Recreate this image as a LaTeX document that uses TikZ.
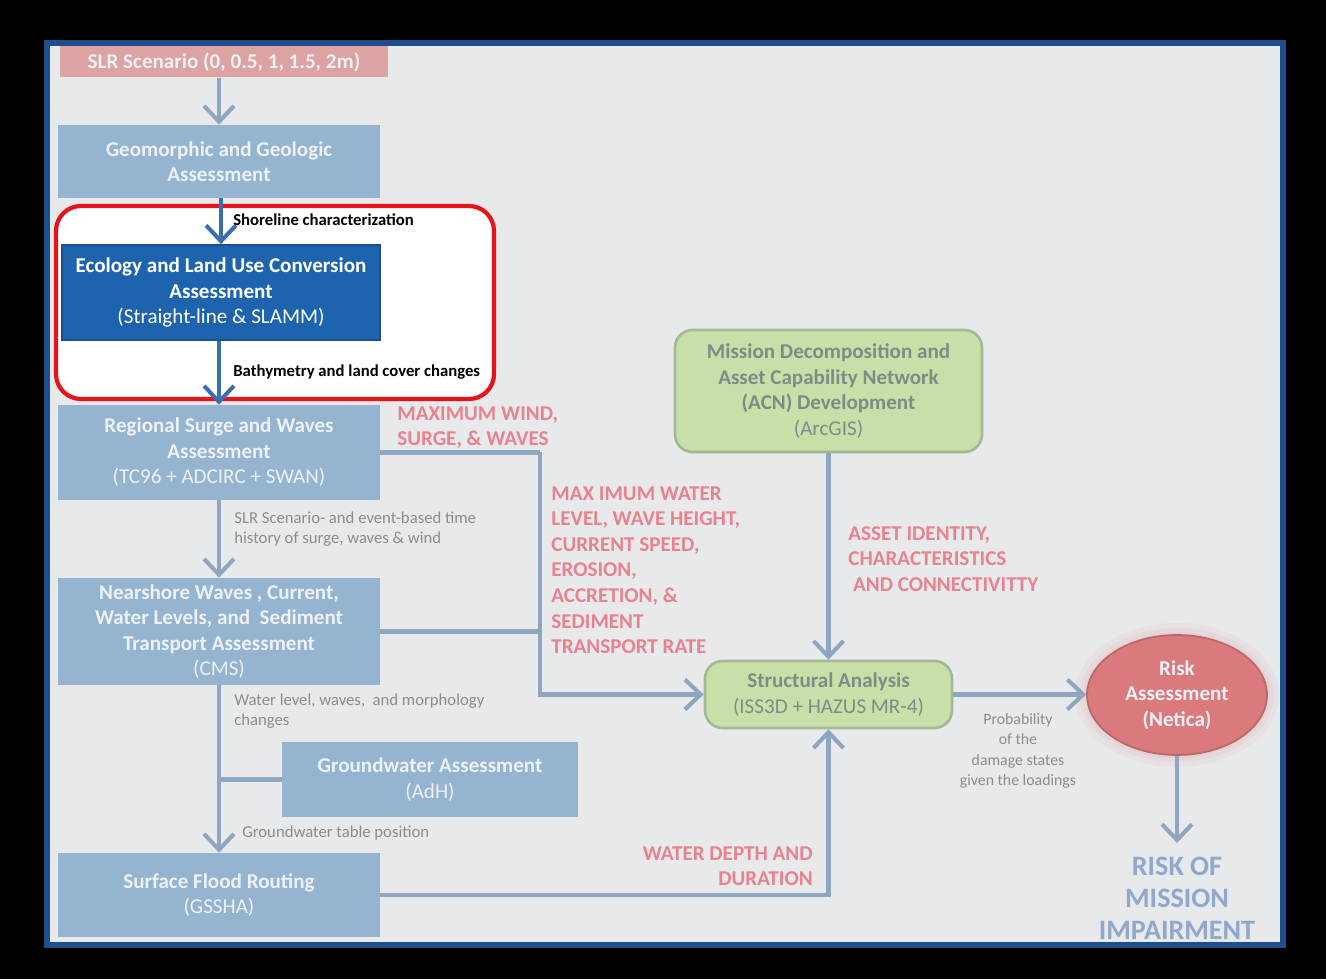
\documentclass[tikz,border=0pt]{standalone}
\usepackage{fontspec}
\setmainfont{Carlito}
\usetikzlibrary{arrows.meta,shapes.geometric}
\definecolor{panel}{HTML}{E8E9EB}
\definecolor{frameblue}{HTML}{1F4E8C}
\definecolor{boxblue}{HTML}{95B4D0}
\definecolor{boxtext}{HTML}{EEF2F7}
\definecolor{darkbox}{HTML}{1E63AD}
\definecolor{darkedge}{HTML}{1A4F8E}
\definecolor{darkarrow}{HTML}{3A6EAE}
\definecolor{linegray}{HTML}{8FA6C0}
\definecolor{pinktext}{HTML}{E8828F}
\definecolor{graytext}{HTML}{8C8C8C}
\definecolor{slrpink}{HTML}{DDA3A3}
\definecolor{greenbox}{HTML}{C8E0A8}
\definecolor{greenedge}{HTML}{A3B897}
\definecolor{greentext}{HTML}{7E8C88}
\definecolor{riskred}{HTML}{DB7A7C}
\definecolor{rmiblue}{HTML}{8FA8CC}
\definecolor{hilite}{HTML}{E5141B}
\begin{document}
\begin{tikzpicture}[x=0.02cm,y=-0.02cm,
  bluebox/.style={fill=boxblue, draw=none, text=boxtext, align=center, inner sep=0pt,
    font=\fontsize{12}{14.5}\selectfont\bfseries},
  greenbox/.style={fill=greenbox, draw=greenedge, line width=1.5pt, rounded corners=0.35cm,
    text=greentext, align=center, inner sep=0pt, font=\fontsize{12}{14.5}\selectfont\bfseries},
  conn/.style={draw=linegray, line width=2.3pt},
  flow/.style={conn, -{Straight Barb[length=9pt,width=17pt,line width=2.3pt]}},
  darkflow/.style={draw=darkarrow, line width=2.3pt, -{Straight Barb[length=9pt,width=17pt,line width=2.3pt]}},
  pinklabel/.style={text=pinktext, align=left, inner sep=0pt, font=\fontsize{12}{14.6}\selectfont\bfseries},
  graylabel/.style={text=graytext, align=left, inner sep=0pt, font=\fontsize{9.5}{11.3}\selectfont},
  blacklabel/.style={text=black, inner sep=0pt, font=\fontsize{9.5}{11}\selectfont\bfseries}
]
% background and frame
\fill[black] (0,0) rectangle (1326,979);
\draw[frameblue, line width=3.4pt, fill=panel] (47,43) rectangle (1283,945);
% highlight frame
\draw[hilite, line width=2.4pt, fill=white, rounded corners=0.5cm] (56,206) rectangle (494,399);
% soft glow around the risk ellipse
\fill[riskred, opacity=0.07] (1177,695) ellipse [x radius=102, y radius=72];
\fill[riskred, opacity=0.07] (1177,695) ellipse [x radius=97, y radius=67];
\fill[riskred, opacity=0.07] (1177,695) ellipse [x radius=93, y radius=63];

% boxes
\node[fill=slrpink, text=boxtext, inner sep=0pt, minimum width=6.56cm, minimum height=0.62cm,
  font=\fontsize{12}{14.5}\selectfont\bfseries] (slr) at (224,62) {SLR Scenario (0, 0.5, 1, 1.5, 2m)};
\node[bluebox, minimum width=6.44cm, minimum height=1.46cm] (geo) at (219,161.5)
  {Geomorphic and Geologic\\Assessment};
\node[fill=darkbox, draw=darkedge, line width=1pt, text=white, align=center, inner sep=0pt,
  minimum width=6.36cm, minimum height=1.9cm, font=\fontsize{12}{14.5}\selectfont\bfseries] (eco) at (221,292.5)
  {Ecology and Land Use Conversion\\Assessment\\\mdseries(Straight-line \& SLAMM)};
\node[bluebox, minimum width=6.44cm, minimum height=1.9cm] (reg) at (219,452.5)
  {Regional Surge and Waves\\Assessment\\\mdseries(TC96 + ADCIRC + SWAN)};
\node[bluebox, minimum width=6.44cm, minimum height=2.14cm] (near) at (219,631.5)
  {Nearshore Waves , Current,\\Water Levels, and \ Sediment\\Transport Assessment\\\mdseries(CMS)};
\node[bluebox, minimum width=5.92cm, minimum height=1.5cm] (gw) at (430,779.5)
  {Groundwater Assessment\\\mdseries(AdH)};
\node[bluebox, minimum width=6.44cm, minimum height=1.68cm] (surf) at (219,895)
  {Surface Flood Routing\\\mdseries(GSSHA)};
\node[greenbox, minimum width=6.14cm, minimum height=2.44cm] (mis) at (828.5,391)
  {Mission Decomposition and\\Asset Capability Network\\(ACN) Development\\\mdseries(ArcGIS)};
\node[greenbox, minimum width=4.94cm, minimum height=1.34cm] (str) at (828.5,694.5)
  {Structural Analysis\\\mdseries(ISS3D + HAZUS MR-4)};
\node[ellipse, fill=riskred, draw=riskred!85!black, line width=1pt, text=boxtext, align=center, inner sep=0pt,
  minimum width=3.6cm, minimum height=2.4cm, font=\fontsize{12}{14.5}\selectfont\bfseries] (risk) at (1177,695)
  {Risk\\Assessment\\(Netica)};
\node[anchor=north, text=rmiblue, align=center, inner xsep=0pt, inner ysep=8pt,
  font=\fontsize{16}{18}\selectfont\bfseries] (rmi) at (1177,843)
  {RISK OF\\MISSION\\IMPAIRMENT};

% connectors
\draw[flow] (slr.south -| geo.north) -- (geo.north);
\draw[darkflow] (geo.south -| eco.north) -- (eco.north);
\draw[darkflow] (eco.south -| reg.north) -- (reg.north);
\draw[flow] (reg.south) -- (near.north);
\draw[flow] (near.south) -- (surf.north);
\draw[conn] (gw.west) -- (gw.west -| near.south);
\coordinate (bend) at (540,452.5);
\draw[conn] (reg.east) -- (bend);
\draw[flow] (bend) |- (str.west);
\draw[conn] (near.east) -- (near.east -| bend);
\draw[flow] (surf.east) -| (str.south);
\draw[flow] (mis.south) -- (str.north);
\draw[flow] (str.east) -- (str.east -| risk.west);
\draw[flow] (risk.south) -- (rmi.north);

% labels
\node[blacklabel, anchor=west] (lshore) at (233,220) {Shoreline characterization};
\node[blacklabel, anchor=west] (lbath) at (233,372) {Bathymetry and land cover changes};
\node[pinklabel, anchor=north west] (lwind) at (397,406) {MAXIMUM WIND,\\SURGE, \& WAVES};
\node[pinklabel, anchor=north west] (lwater) at (551,486)
  {MAX IMUM WATER\\LEVEL, WAVE HEIGHT,\\CURRENT SPEED,\\EROSION,\\ACCRETION, \&\\SEDIMENT\\TRANSPORT RATE};
\node[pinklabel, anchor=north west] (lasset) at (848,526)
  {ASSET IDENTITY,\\CHARACTERISTICS\\\ AND CONNECTIVITTY};
\node[pinklabel, anchor=north east, align=right] (ldepth) at (813,846) {WATER DEPTH AND\\DURATION};
\node[graylabel, anchor=north west] (lslr) at (234,512)
  {SLR Scenario- and event-based time\\history of surge, waves \& wind};
\node[graylabel, anchor=north west] (lwl) at (234,694)
  {Water level, waves, \ and morphology\\changes};
\node[graylabel, anchor=north west] (lgwt) at (242,826) {Groundwater table position};
\node[graylabel, anchor=north, align=center, font=\fontsize{9}{11.6}\selectfont] (lprob) at (1018,713)
  {Probability\\of the\\damage states\\given the loadings};
\end{tikzpicture}
\end{document}
